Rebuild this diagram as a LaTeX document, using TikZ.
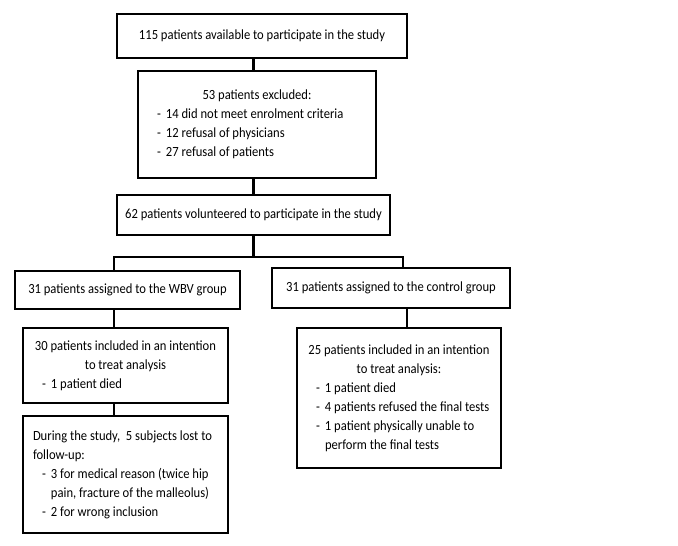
\documentclass[tikz,border=0pt]{standalone}
\usepackage{fontspec}
\setmainfont{Carlito}[FakeStretch=0.9]
\newcommand{\itm}[1]{\hspace*{19pt}\makebox[9pt][l]{-}#1}
\newcommand{\cnt}[1]{\hspace*{28pt}#1}
\tikzset{
  box/.style={draw=black, line width=2.7pt, fill=white, inner sep=0pt, rectangle, font=\fontsize{14}{19}\selectfont},
  conn/.style={draw=black, line width=2.7pt}
}
\begin{document}
\begin{tikzpicture}[x=1pt,y=-1pt]
\useasboundingbox (0,0) rectangle (678,546);
\fill[white] (0,0) rectangle (678,546);
\node[box, minimum width=290pt, minimum height=44pt] (b1) at (262,36) {115 patients available to participate in the study};
\node[box, minimum width=238pt, minimum height=107pt] (b2) at (257,124.5) {\begin{minipage}{238pt}\parindent=0pt\raggedright
{\centering 53 patients excluded:\par}
\itm{14 did not meet enrolment criteria}\\
\itm{12 refusal of physicians}\\
\itm{27 refusal of patients}
\end{minipage}};
\node[box, minimum width=273pt, minimum height=40pt] (b3) at (253.5,215) {62 patients volunteered to participate in the study};
\node[box, minimum width=225pt, minimum height=38pt] (b4) at (127.5,290) {31 patients assigned to the WBV group};
\node[box, minimum width=238pt, minimum height=40pt] (b5) at (391,288) {31 patients assigned to the control group};
\node[box, minimum width=205pt, minimum height=75pt] (b6) at (125.5,365.5) {\begin{minipage}{205pt}\parindent=0pt\raggedright
{\centering 30 patients included in an intention\\ to treat analysis\par}
\itm{1 patient died}
\end{minipage}};
\node[box, minimum width=205pt, minimum height=117pt] (b7) at (125.5,474.5) {\begin{minipage}{205pt}\parindent=0pt\raggedright
\hspace*{10pt}During the study,\ \ 5 subjects lost to\\
\hspace*{10pt}follow-up:\\
\itm{3 for medical reason (twice hip}\\
\cnt{pain, fracture of the malleolus)}\\
\itm{2 for wrong inclusion}
\end{minipage}};
\node[box, minimum width=204pt, minimum height=140pt] (b8) at (399,398) {\begin{minipage}{204pt}\parindent=0pt\raggedright
{\centering 25 patients included in an intention\\ to treat analysis:\par}
\itm{1 patient died}\\
\itm{4 patients refused the\ final tests}\\
\itm{1 patient physically unable to}\\
\cnt{perform the final tests}
\end{minipage}};
\coordinate (split) at (253.5,257);
\coordinate (lx) at (114,257);
\coordinate (rx) at (403,257);
\coordinate (cx) at (407,0);
\draw[conn] (b1.south -| b3.north) -- (b2.north -| b3.north);
\draw[conn] (b2.south -| b3.north) -- (b3.north);
\draw[conn] (b3.south) -- (split);
\draw[conn, line cap=rect] (lx) -- (rx);
\draw[conn] (lx) -- (lx |- b4.north);
\draw[conn] (rx) -- (rx |- b5.north);
\draw[conn] (b4.south -| lx) -- (b6.north -| lx);
\draw[conn] (b6.south -| lx) -- (b7.north -| lx);
\draw[conn] (b5.south -| cx) -- (b8.north -| cx);
\end{tikzpicture}
\end{document}
